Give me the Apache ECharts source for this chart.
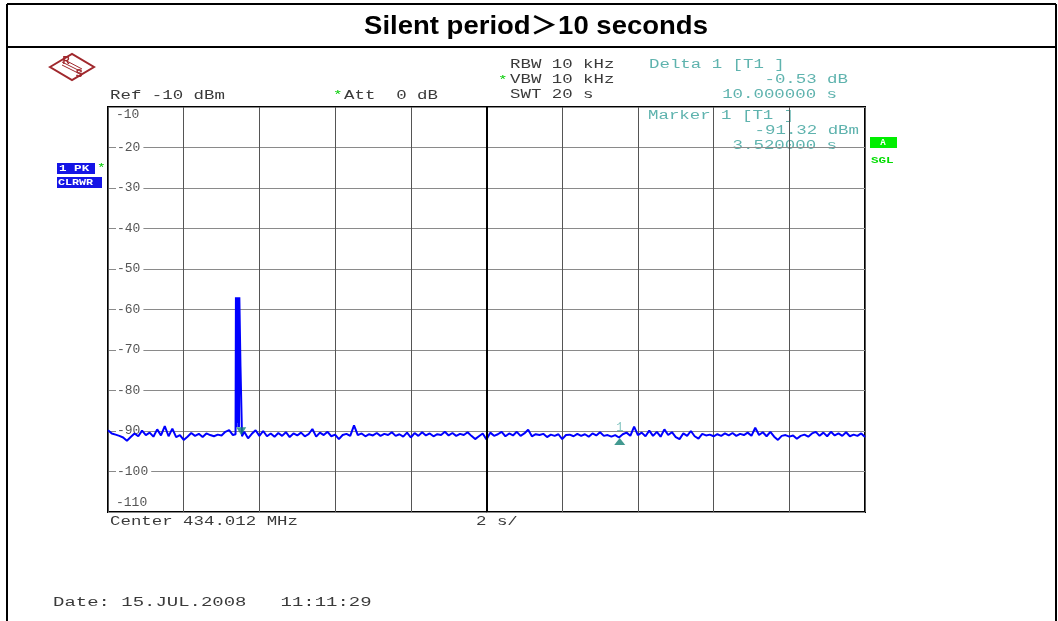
<!DOCTYPE html>
<html>
<head>
<meta charset="utf-8">
<script src="https://cdn.jsdelivr.net/npm/echarts@6/dist/echarts.min.js"></script>
<style>
  html, body { margin: 0; padding: 0; background: #fff; }
  #chart { width: 1058px; height: 621px; }
</style>
</head>
<body>
<div id="chart"></div>
<script>
// sweep: 0..20 s (SWT 20 s, 2 s/div), level in dBm
const noiseStep = 0.1;
const noiseLevels = [
  -89.8, -90.6, -90.9, -91.2, -91.6, -92.4, -91.5, -90.6, -91.3, -89.9,
  -91.0, -90.4, -91.4, -89.6, -91.1, -88.8, -91.3, -89.4, -91.5, -91.0,
  -92.2, -91.4, -90.5, -91.2, -90.7, -91.5, -90.6, -91.0, -91.3, -90.9,
  -91.1, -90.2, -89.8, -91.0, -90.5, -91.3, -90.2, -91.8, -90.7, -89.8,
  -91.2, -90.0, -91.3, -90.6, -91.4, -90.5, -91.2, -90.3, -91.5, -90.6,
  -91.1, -90.4, -91.3, -90.8, -89.5, -91.4, -90.4, -91.0, -90.2, -91.3,
  -90.9, -92.0, -91.0, -90.7, -91.2, -88.6, -91.0, -90.6, -91.3, -90.8,
  -91.1, -90.5, -91.2, -90.7, -91.0, -90.3, -91.2, -90.8, -91.4, -90.4,
  -91.6, -90.5, -91.2, -90.3, -91.1, -90.6, -91.3, -90.8, -91.0, -90.2,
  -91.1, -90.5, -91.2, -90.7, -91.0, -90.3, -91.2, -92.0, -91.3, -90.6,
  -92.1, -90.4, -91.2, -90.8, -90.2, -91.3, -90.6, -91.1, -90.2, -91.2,
  -90.6, -89.7, -91.3, -90.8, -91.0, -90.7, -91.5, -90.9, -91.2, -90.8,
  -92.0, -91.0, -90.9, -91.3, -90.7, -91.2, -90.8, -91.4, -90.6, -91.1,
  -90.3, -91.2, -91.0, -91.4, -91.0, -91.6, -90.8, -90.4, -91.2, -88.9,
  -91.0, -90.4, -91.3, -89.9, -91.2, -90.2, -91.4, -89.6, -91.0, -90.3,
  -91.5, -92.0, -90.6, -91.2, -90.0, -91.3, -91.9, -90.7, -91.1, -90.9,
  -91.3, -90.8, -91.2, -90.6, -91.1, -90.5, -91.2, -90.7, -91.0, -90.4,
  -91.2, -89.2, -91.0, -90.3, -91.3, -90.2, -91.4, -92.2, -91.2, -91.0,
  -91.4, -91.1, -91.9, -91.2, -90.9, -91.4, -90.6, -90.2, -91.2, -90.4,
  -91.3, -90.2, -91.1, -90.6, -91.2, -90.3, -91.3, -90.9, -91.2, -90.6,
  -91.5
];
// the burst near 3.5 s
const spikeTimes  = [3.37, 3.38, 3.40, 3.41, 3.43, 3.44, 3.46, 3.47, 3.49, 3.50, 3.53, 3.54];
const spikeLevels = [-90.8, -57, -89, -57, -88, -57, -89, -57, -57, -74, -74.3, -91.3];

const marker1 = [3.52, -91.32];
const delta1 = [13.52, -91.85];

const yMin = -110, yMax = -10, yStep = 10;
const xMin = 0, xMax = 20, xStep = 2;

// merge noise + burst into one trace
const trace = [];
const spikeStart = spikeTimes[0], spikeEnd = spikeTimes[spikeTimes.length - 1];
noiseLevels.forEach((v, i) => {
  const t = +(i * noiseStep).toFixed(2);
  if (t < spikeStart) trace.push([t, v]);
});
spikeTimes.forEach((t, i) => trace.push([t, spikeLevels[i]]));
noiseLevels.forEach((v, i) => {
  const t = +(i * noiseStep).toFixed(2);
  if (t > spikeEnd) trace.push([t, v]);
});

const mono = '"Liberation Mono", "DejaVu Sans Mono", monospace';
const teal = '#5fb3ae';
const ink = '#3a3a3a';

// analyser text, stretched a bit to get the wide pitch of the screen font
const txt = (x, y, text, color, align, size, sx) => ({
  type: 'text', x: x, y: y, scaleX: sx || 1.45, silent: true,
  style: {
    text: text, fill: color || ink, font: (size || 12) + 'px ' + mono,
    textAlign: align || 'left', textVerticalAlign: 'middle'
  }
});

const chart = echarts.init(document.getElementById('chart'));
const option = {
  animation: false,
  backgroundColor: '#fff',
  grid: {
    left: 108, top: 107, width: 757, height: 405,
    show: true, borderColor: '#000', borderWidth: 2, backgroundColor: 'transparent'
  },
  xAxis: {
    type: 'value', min: xMin, max: xMax, interval: xStep,
    axisLine: { show: false }, axisTick: { show: false }, axisLabel: { show: false },
    splitLine: { show: true, lineStyle: { color: '#555', width: 1 } }
  },
  yAxis: {
    type: 'value', min: yMin, max: yMax, interval: yStep,
    axisLine: { show: false }, axisTick: { show: false },
    splitLine: { show: true, lineStyle: { color: '#8a8a8a', width: 1 } },
    axisLabel: {
      inside: true, margin: 8, color: '#555', fontFamily: mono, fontSize: 13,
      formatter: function (v) {
        if (v === yMax) return '{top|' + v + '}';
        if (v === yMin) return '{bot|' + v + '}';
        return '{mid|' + v + '}';
      },
      rich: {
        mid: { color: '#555', fontFamily: mono, fontSize: 13, backgroundColor: '#fff', padding: [0, 3, 0, 1] },
        top: { color: '#555', fontFamily: mono, fontSize: 13, padding: [15, 0, 0, 0] },
        bot: { color: '#555', fontFamily: mono, fontSize: 13, padding: [0, 0, 19, 0] }
      }
    }
  },
  series: [
    {
      type: 'line', data: trace, showSymbol: false, symbol: 'none',
      lineStyle: { color: '#0000ff', width: 2 }, z: 3,
      markLine: {
        silent: true, symbol: 'none', label: { show: false },
        lineStyle: { color: '#000', width: 2, type: 'solid' },
        data: [{ xAxis: 10 }]
      }
    },
    {
      type: 'scatter', data: [marker1], symbol: 'triangle', symbolRotate: 180,
      symbolSize: [10, 8], symbolOffset: [0, -5], itemStyle: { color: '#138074' }, z: 4
    },
    {
      type: 'scatter', data: [delta1], symbol: 'triangle',
      symbolSize: [11, 7], symbolOffset: [0, 3], itemStyle: { color: '#138074' }, z: 4,
      label: {
        show: true, formatter: '1', position: 'top', distance: 4,
        color: teal, fontFamily: mono, fontSize: 12
      }
    }
  ],
  graphic: [
    // page frame and title box
    { type: 'line', shape: { x1: 7, y1: 4, x2: 1056, y2: 4 }, style: { stroke: '#000', lineWidth: 2 } },
    { type: 'line', shape: { x1: 7, y1: 47, x2: 1056, y2: 47 }, style: { stroke: '#000', lineWidth: 2 } },
    { type: 'line', shape: { x1: 7, y1: 4, x2: 7, y2: 621 }, style: { stroke: '#000', lineWidth: 2 } },
    { type: 'line', shape: { x1: 1056, y1: 4, x2: 1056, y2: 621 }, style: { stroke: '#000', lineWidth: 2 } },
    {
      type: 'text', x: 536, y: 27, scaleX: 1.1, silent: true,
      style: {
        text: 'Silent period＞10 seconds', fill: '#000',
        font: 'bold 25px "Liberation Sans", "Noto Sans CJK SC", Arial, sans-serif',
        textAlign: 'center', textVerticalAlign: 'middle'
      }
    },
    // R&S logo
    {
      type: 'group', silent: true, children: [
        { type: 'polygon', shape: { points: [[50, 67], [72, 54], [94, 67], [72, 80]] }, style: { fill: 'none', stroke: '#a0282d', lineWidth: 2 } },
        { type: 'line', shape: { x1: 62, y1: 62, x2: 82, y2: 72 }, style: { stroke: '#a0282d', lineWidth: 1 } },
        { type: 'line', shape: { x1: 62, y1: 65, x2: 82, y2: 75 }, style: { stroke: '#a0282d', lineWidth: 1 } },
        { type: 'line', shape: { x1: 63, y1: 59, x2: 82, y2: 69 }, style: { stroke: '#a0282d', lineWidth: 1 } },
        { type: 'text', x: 66, y: 61, style: { text: 'R', fill: '#a0282d', font: 'bold 10px "Liberation Sans", sans-serif', textAlign: 'center', textVerticalAlign: 'middle' } },
        { type: 'text', x: 79, y: 74, style: { text: 'S', fill: '#a0282d', font: 'bold 10px "Liberation Sans", sans-serif', textAlign: 'center', textVerticalAlign: 'middle' } }
      ]
    },
    // header readouts
    txt(110, 96, 'Ref -10 dBm'),
    txt(333, 95, '*', '#00cc00', 'left', 11),
    txt(344, 96, 'Att  0 dB'),
    txt(510, 65, 'RBW 10 kHz'),
    txt(498, 80, '*', '#00cc00', 'left', 11),
    txt(510, 80, 'VBW 10 kHz'),
    txt(510, 95, 'SWT 20 s'),
    txt(649, 65, 'Delta 1 [T1 ]', teal),
    txt(848, 80, '-0.53 dB', teal, 'right'),
    txt(837, 95, '10.000000 s', teal, 'right'),
    txt(648, 116, 'Marker 1 [T1 ]', teal),
    txt(859, 131, '-91.32 dBm', teal, 'right'),
    txt(837, 146, '3.520000 s', teal, 'right'),
    // trace status badges
    { type: 'rect', shape: { x: 57, y: 163, width: 38, height: 11 }, style: { fill: '#1414e6' }, silent: true },
    { type: 'text', x: 59, y: 169, silent: true, style: { text: '1 PK', fill: '#fff', font: 'bold 9px ' + mono, textVerticalAlign: 'middle' }, scaleX: 1.4 },
    txt(97, 168, '*', '#00cc00', 'left', 10),
    { type: 'rect', shape: { x: 57, y: 177, width: 45, height: 11 }, style: { fill: '#1414e6' }, silent: true },
    { type: 'text', x: 58, y: 183, silent: true, style: { text: 'CLRWR', fill: '#fff', font: 'bold 9px ' + mono, textVerticalAlign: 'middle' }, scaleX: 1.3 },
    { type: 'rect', shape: { x: 870, y: 137, width: 27, height: 11 }, style: { fill: '#00ee00' }, silent: true },
    { type: 'text', x: 883, y: 143, silent: true, style: { text: 'A', fill: '#fff', font: 'bold 9px ' + mono, textAlign: 'center', textVerticalAlign: 'middle' } },
    { type: 'text', x: 871, y: 161, silent: true, style: { text: 'SGL', fill: '#00dd00', font: 'bold 9px ' + mono, textVerticalAlign: 'middle' }, scaleX: 1.4 },
    // footer
    txt(110, 522, 'Center 434.012 MHz'),
    txt(476, 522, '2 s/'),
    txt(53, 603, 'Date: 15.JUL.2008   11:11:29', ink, 'left', 12, 1.58)
  ]
};
chart.setOption(option);
</script>
</body>
</html>
